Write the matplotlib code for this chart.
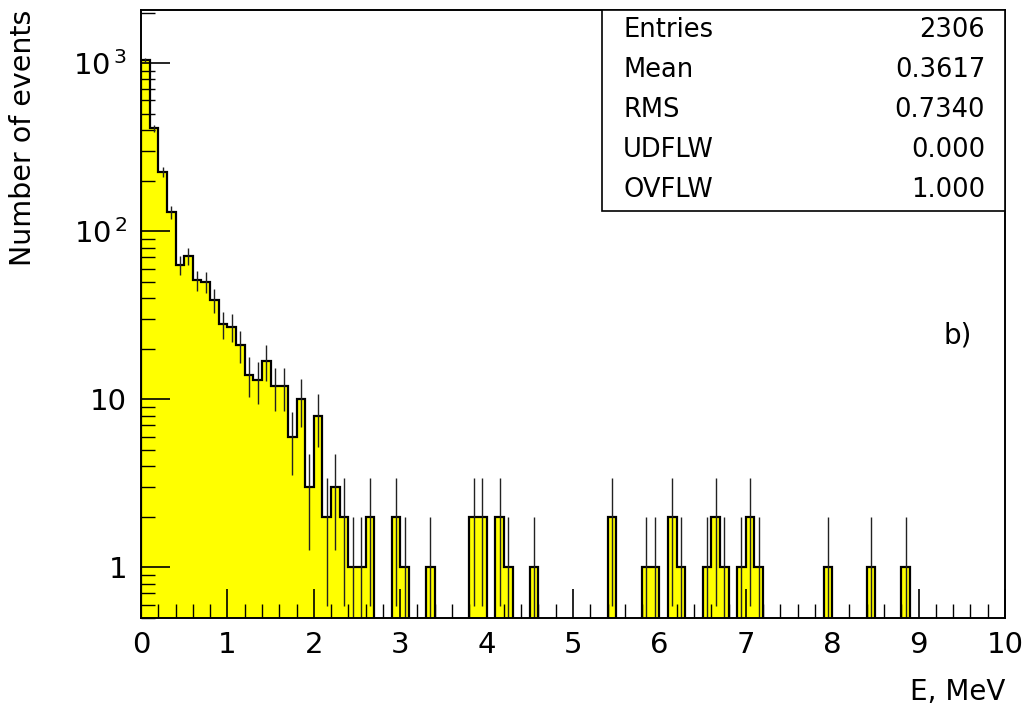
import matplotlib
matplotlib.use("Agg")
import matplotlib.pyplot as plt
import numpy as np
from matplotlib.ticker import FixedLocator, LogLocator, NullFormatter, MultipleLocator

# histogram: 100 bins from 0 to 10 MeV
bin_edges = np.linspace(0.0, 10.0, 101)
counts = np.zeros(100)
# first 27 bins (0 - 2.7 MeV)
head = [1040, 410, 225, 130, 63, 71, 51, 50, 39, 28,
        27, 21, 14, 13, 17, 12, 12, 6, 10, 3,
        8, 2, 3, 2, 1, 1, 2]
counts[:len(head)] = head
# sparse tail: bin index -> count
tail_bins = [29, 30, 33, 38, 39, 41, 42, 45, 54, 58, 59, 61, 62, 65, 66, 67, 69, 70, 71, 79, 84, 88]
tail_vals = [2, 1, 1, 2, 2, 2, 1, 1, 2, 1, 1, 2, 1, 1, 2, 1, 1, 2, 1, 1, 1, 1]
counts[tail_bins] = tail_vals

stats_names = ["Entries", "Mean", "RMS", "UDFLW", "OVFLW"]
stats_values = ["2306", "0.3617", "0.7340", "0.000", "1.000"]

plt.rcParams['font.family'] = ['DejaVu Sans']
plt.rcParams['mathtext.fontset'] = 'dejavusans'

fig = plt.figure(figsize=(10.29, 7.06), dpi=100)
ax = fig.add_axes([0.137, 0.1246, 0.8397, 0.8612])
ax.set_yscale('log')

draw_counts = np.maximum(counts, 1e-3)
ax.stairs(draw_counts, bin_edges, baseline=1e-3, fill=True, color='#ffff00', zorder=1)
ax.stairs(draw_counts, bin_edges, baseline=1e-3, color='black', linewidth=1.6, zorder=2)

# error bars sqrt(N)
centers = 0.5 * (bin_edges[:-1] + bin_edges[1:])
nz = counts > 0
err = np.sqrt(counts[nz])
ax.vlines(centers[nz], np.maximum(counts[nz] - err, 1e-3), counts[nz] + err,
          color='#222222', linewidth=1.0, zorder=3)

ax.set_xlim(0, 10)
ax.set_ylim(0.5, 2070)

ax.xaxis.set_major_locator(MultipleLocator(1))
ax.xaxis.set_minor_locator(MultipleLocator(0.2))
ax.yaxis.set_major_locator(FixedLocator([1, 10, 100, 1000]))
ax.set_yticklabels(['1', '10', r'$10^{\,2}$', r'$10^{\,3}$'])
ax.yaxis.set_minor_locator(LogLocator(base=10, subs=np.arange(2, 10)))
ax.yaxis.set_minor_formatter(NullFormatter())

ax.tick_params(axis='both', which='major', direction='in', length=21, width=1.2,
               labelsize=21, pad=9)
ax.tick_params(axis='both', which='minor', direction='in', length=10, width=1.0)
ax.tick_params(axis='y', which='major', pad=10)
for s in ax.spines.values():
    s.set_linewidth(1.4)
    s.set_zorder(5)

ax.set_xlabel("E, MeV", fontsize=20, loc='right', labelpad=14)
ax.set_ylabel("Number of events", fontsize=20.5, loc='top', labelpad=26)

# stats box
box = plt.Rectangle((0.5336, 0.669), 0.4664, 0.331, transform=ax.transAxes,
                    facecolor='white', edgecolor='black', linewidth=1.2, zorder=6)
ax.add_patch(box)
for i, (n, v) in enumerate(zip(stats_names, stats_values)):
    yy = 0.967 - i * 0.0658
    ax.text(0.558, yy, n, transform=ax.transAxes, fontsize=18.5, va='center', ha='left', zorder=7)
    ax.text(0.977, yy, v, transform=ax.transAxes, fontsize=18.5, va='center', ha='right', zorder=7)

ax.text(0.9456, 0.4655, "b)", transform=ax.transAxes, fontsize=20, ha='center', va='center')

fig.savefig("out.png", dpi=100)
